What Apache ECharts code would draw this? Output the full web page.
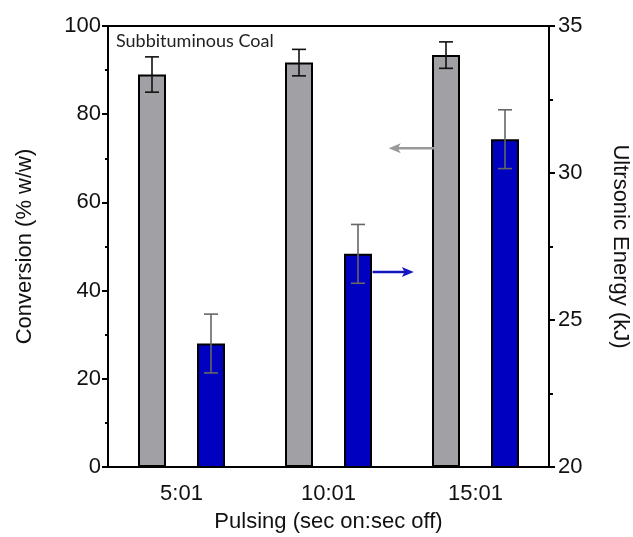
<!DOCTYPE html>
<html>
<head>
<meta charset="utf-8">
<script src="https://cdn.jsdelivr.net/npm/echarts@6/dist/echarts.min.js"></script>
<style>
  html, body { margin: 0; padding: 0; background: #fff; }
  #chart { width: 633px; height: 537px; }
</style>
</head>
<body>
<div id="chart"></div>
<script>
// pulsing ratio categories
const categories = ['5:01', '10:01', '15:01']
// conversion (% w/w), left axis
const conversion = [89.0, 91.7, 93.4]
const conversionErr = [4.0, 3.0, 3.0]
// ultrasonic energy (kJ), right axis
const energy = [24.2, 27.25, 31.15]
const energyErr = [1.0, 1.0, 1.0]
// arrows: [category, start offset, end offset (in band widths), value]
const grayArrow = [1, 0.72, 0.41, 72.3]
const blueArrow = [1, 0.30, 0.58, 26.63]

const barWidth = 28
const barGapPx = 31
const FONT = 'Liberation Sans, Arial, sans-serif'
const FS = 22

const chart = echarts.init(document.getElementById('chart'))

// 误差线
function errorSeries (values, errs, yIndex, side, color) {
  return {
    type: 'custom',
    xAxisIndex: 0,
    yAxisIndex: yIndex,
    z: 5,
    silent: true,
    data: values.map((v, i) => [i, v - errs[i], v + errs[i]]),
    renderItem (params, api) {
      const lo = api.coord([api.value(0), api.value(1)])
      const hi = api.coord([api.value(0), api.value(2)])
      const dx = side * (barWidth + barGapPx) / 2
      const x = lo[0] + dx
      const cap = 7
      const style = { stroke: color, lineWidth: 1.6 }
      return {
        type: 'group',
        children: [
          { type: 'line', shape: { x1: x, y1: lo[1], x2: x, y2: hi[1] }, style },
          { type: 'line', shape: { x1: x - cap, y1: lo[1], x2: x + cap, y2: lo[1] }, style },
          { type: 'line', shape: { x1: x - cap, y1: hi[1], x2: x + cap, y2: hi[1] }, style }
        ]
      }
    }
  }
}

const option = {
  animation: false,
  backgroundColor: '#fff',
  grid: {
    left: 108, right: 84, top: 26, bottom: 70,
    outerBoundsMode: 'none',
    containLabel: false,
    show: true, borderColor: '#000', borderWidth: 2, backgroundColor: 'transparent'
  },
  title: {
    text: 'Subbituminous Coal',
    left: 111, top: 27,
    textStyle: { fontFamily: 'Lato, Noto Sans, sans-serif', fontWeight: 'normal', fontSize: 18, color: '#222' }
  },
  xAxis: {
    type: 'category',
    data: categories,
    boundaryGap: true,
    name: 'Pulsing (sec on:sec off)',
    nameLocation: 'middle',
    nameGap: 44,
    nameTextStyle: { fontFamily: FONT, fontSize: FS, color: '#111' },
    axisLine: { lineStyle: { color: '#000', width: 2 } },
    axisTick: { alignWithLabel: true, length: 5, lineStyle: { color: '#000', width: 2 } },
    axisLabel: { fontFamily: FONT, fontSize: FS, color: '#111', margin: 16 }
  },
  yAxis: [
    {
      type: 'value',
      min: 0, max: 100, interval: 20,
      position: 'left',
      name: 'Conversion (% w/w)',
      nameLocation: 'middle',
      nameGap: 72,
      nameTextStyle: { fontFamily: FONT, fontSize: FS, color: '#111' },
      axisLine: { show: true, lineStyle: { color: '#000', width: 2 } },
      axisTick: { show: true, length: 6, lineStyle: { color: '#000', width: 2 } },
      minorTick: { show: true, splitNumber: 2, length: 3, lineStyle: { color: '#000', width: 2 } },
      splitLine: { show: false },
      axisLabel: { fontFamily: FONT, fontSize: FS, color: '#111', margin: 7 }
    },
    {
      type: 'value',
      min: 20, max: 35, interval: 5,
      position: 'right',
      name: 'Ultrsonic Energy (kJ)',
      nameLocation: 'middle',
      nameRotate: -90,
      nameGap: 60,
      nameTextStyle: { fontFamily: FONT, fontSize: FS, color: '#111' },
      axisLine: { show: true, lineStyle: { color: '#000', width: 2 } },
      axisTick: { show: true, length: 6, lineStyle: { color: '#000', width: 2 } },
      minorTick: { show: true, splitNumber: 2, length: 4, lineStyle: { color: '#000', width: 2 } },
      splitLine: { show: false },
      axisLabel: { fontFamily: FONT, fontSize: FS, color: '#111', margin: 9 }
    }
  ],
  series: [
    {
      name: 'Conversion',
      type: 'bar',
      yAxisIndex: 0,
      data: conversion,
      barWidth: barWidth,
      barGap: (barGapPx / barWidth * 100) + '%',
      itemStyle: { color: '#a1a1a5', borderColor: '#000', borderWidth: 2 }
    },
    {
      name: 'Energy',
      type: 'bar',
      yAxisIndex: 1,
      data: energy,
      barWidth: barWidth,
      itemStyle: { color: '#0000c0', borderColor: '#000', borderWidth: 2 }
    },
    errorSeries(conversion, conversionErr, 0, -1, '#111'),
    errorSeries(energy, energyErr, 1, 1, '#666')
  ]
}
chart.setOption(option)

// 箭头
function arrow (a, yIndex, color) {
  const c = chart.convertToPixel({ xAxisIndex: 0, yAxisIndex: yIndex }, [a[0], a[3]])
  const band = chart.convertToPixel({ xAxisIndex: 0 }, 1) - chart.convertToPixel({ xAxisIndex: 0 }, 0)
  const x1 = c[0] + a[1] * band
  const x2 = c[0] + a[2] * band
  const y = c[1]
  const dir = Math.sign(x2 - x1)
  const head = 12
  return [
    { type: 'line', z: 10, shape: { x1: x1, y1: y, x2: x2 - dir * head * 0.6, y2: y }, style: { stroke: color, lineWidth: 2.5 } },
    { type: 'polygon', z: 10, shape: { points: [[x2, y], [x2 - dir * head, y - 5], [x2 - dir * head * 0.75, y], [x2 - dir * head, y + 5]] }, style: { fill: color } }
  ]
}
chart.setOption({
  graphic: [].concat(arrow(grayArrow, 0, '#999'), arrow(blueArrow, 1, '#1515c0'))
})
</script>
</body>
</html>
